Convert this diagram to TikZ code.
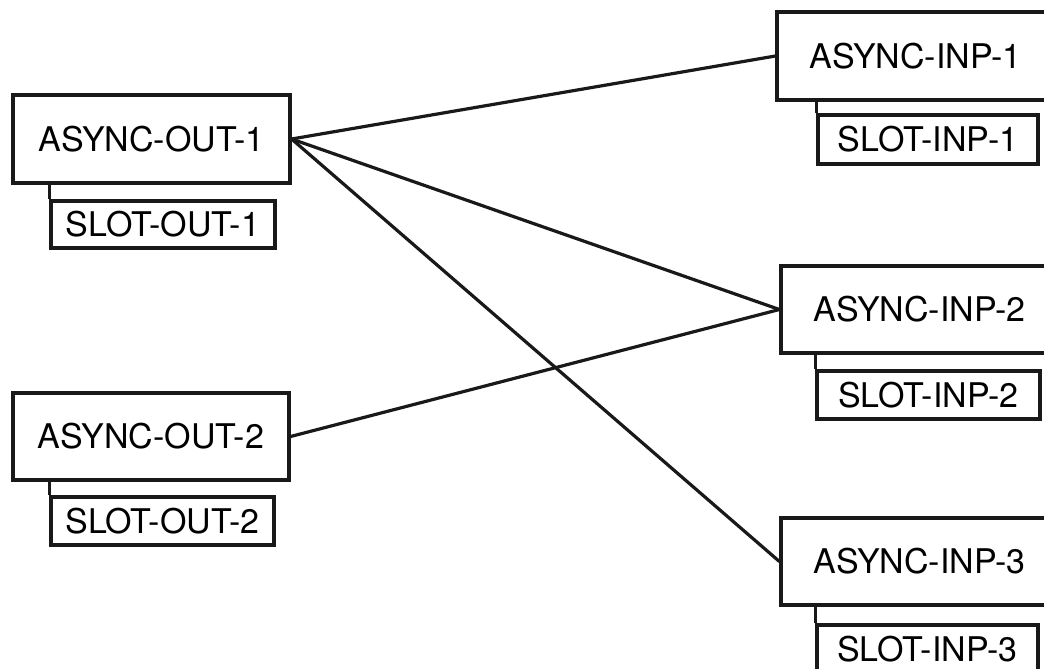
\documentclass[tikz,border=0pt]{standalone}
\usepackage{fontspec}
\setmainfont{TeX Gyre Heros}
\begin{document}
\begin{tikzpicture}[x=1pt,y=-1pt,
  box/.style={draw=black!90,line width=3.2pt,fill=white,inner sep=0pt,font=\fontsize{34}{40}\selectfont},
  wire/.style={draw=black!90,line width=3.2pt,line cap=round}]
\useasboundingbox (0,0) rectangle (1044,669);
\clip (0,0) rectangle (1044,669);
\node[box,minimum width=277pt,minimum height=88pt] (a1) at (151.5,139) {ASYNC-OUT-1};
\node[box,minimum width=276pt,minimum height=87pt] (a2) at (151,436.5) {ASYNC-OUT-2};
\node[box,minimum width=277pt,minimum height=88pt] (b1) at (915.5,56) {ASYNC-INP-1};
\node[box,minimum width=277pt,minimum height=87pt] (b2) at (919.5,309.5) {ASYNC-INP-2};
\node[box,minimum width=277pt,minimum height=87pt] (b3) at (919.5,561.5) {ASYNC-INP-3};
\node[box,minimum width=224pt,minimum height=47pt] (s1) at (163,224.5) {SLOT-OUT-1};
\node[box,minimum width=223pt,minimum height=48pt] (s2) at (162.5,521) {SLOT-OUT-2};
\node[box,minimum width=220pt,minimum height=49pt] (t1) at (928,139.5) {SLOT-INP-1};
\node[box,minimum width=223pt,minimum height=48pt] (t2) at (928.5,395) {SLOT-INP-2};
\node[box,minimum width=221pt,minimum height=48pt] (t3) at (927.5,649) {SLOT-INP-3};
% slot attachment lines
\draw[wire,line cap=butt] (s1.north west) -- (s1.north west |- a1.south);
\draw[wire,line cap=butt] (s2.north west) -- (s2.north west |- a2.south);
\draw[wire,line cap=butt] (t1.north west) -- (t1.north west |- b1.south);
\draw[wire,line cap=butt] (t2.north west) -- (t2.north west |- b2.south);
\draw[wire,line cap=butt] (t3.north west) -- (t3.north west |- b3.south);
% links
\draw[wire] (a1.east) -- (b1.west);
\draw[wire] (a1.east) -- (b2.west);
\draw[wire] (a1.east) -- (b3.west);
\draw[wire] (a2.east) -- (b2.west);
\end{tikzpicture}
\end{document}
